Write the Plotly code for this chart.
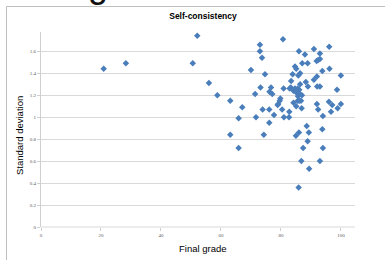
import plotly.graph_objects as go

final_grade = [20.9, 28.3, 50.6, 52.1, 56.0, 58.8, 63.1, 67.1, 65.9, 63.1,
               65.9, 70.0, 73.0, 73.0, 73.7, 74.7, 73.2, 71.4, 71.7, 74.3,
               73.9, 76.1, 76.1, 76.7, 76.2, 77.1, 77.7, 78.9, 79.1, 79.6,
               79.8, 80.7, 80.9, 80.4, 81.0, 82.7, 82.8, 82.9, 83.3, 83.4,
               83.9, 84.7, 85.1, 85.8, 86.4, 86.0, 88.0, 87.1, 88.9, 91.0,
               93.0, 96.1, 91.9, 92.4, 93.0, 93.8, 96.2, 100.0, 92.0, 91.0,
               88.3, 86.4, 89.0, 92.1, 93.0, 84.7, 85.6, 86.1, 84.2, 85.3,
               86.3, 87.0, 85.7, 85.6, 86.1, 86.7, 84.2, 85.1, 86.9, 92.0,
               92.4, 96.0, 97.1, 100.0, 98.9, 96.7, 94.0, 98.7, 88.6, 93.8,
               86.0, 89.3, 85.0, 88.9, 87.4, 94.0, 86.8, 93.0, 89.4, 85.9]
std_dev = [1.44, 1.49, 1.49, 1.74, 1.31, 1.20, 1.15, 1.09, 0.99, 0.84,
           0.72, 1.43, 1.66, 1.60, 1.54, 1.39, 1.27, 1.21, 1.00, 0.84,
           1.07, 1.07, 0.95, 1.27, 1.23, 1.21, 1.02, 1.11, 1.12, 1.15,
           1.17, 1.71, 1.26, 1.07, 1.00, 1.00, 1.05, 1.26, 1.27, 1.33,
           1.39, 1.46, 1.44, 1.38, 1.40, 1.60, 1.57, 1.49, 1.49, 1.62,
           1.58, 1.64, 1.51, 1.52, 1.53, 1.42, 1.44, 1.38, 1.37, 1.34,
           1.32, 1.30, 1.28, 1.28, 1.28, 1.26, 1.26, 1.25, 1.24, 1.22,
           1.21, 1.20, 1.19, 1.15, 1.15, 1.15, 1.13, 1.10, 1.08, 1.12,
           1.07, 1.14, 1.11, 1.12, 1.08, 1.05, 1.01, 1.25, 0.92, 0.89,
           0.86, 0.86, 0.83, 0.78, 0.72, 0.72, 0.60, 0.60, 0.53, 0.36]

x_ticks = [0, 20, 40, 60, 80, 100]
y_ticks = [0, 0.2, 0.4, 0.6, 0.8, 1, 1.2, 1.4, 1.6]
y_tick_text = ["0", "0.2", "0.4", "0.6", "0.8", "1", "1.2", "1.4", "1.6"]

chart_title = "Self-consistency"
x_title = "Final grade"
y_title = "Standard deviation"

W, H = 385, 260
L, R, T, B = 41, 30, 32, 33
pw, ph = W - L - R, H - T - B


def px_x(p):
    return (p - L) / pw


def px_y(p):
    return (H - B - p) / ph


fig = go.Figure()
fig.add_trace(go.Scatter(
    x=final_grade, y=std_dev, mode="markers",
    marker=dict(symbol="diamond", size=5, color="#4A7EBB", line=dict(width=0)),
    showlegend=False, cliponaxis=False,
))

tick_font = dict(family="Liberation Serif", size=5, color="#595959")
fig.update_xaxes(
    range=[0, 104.7], tickvals=x_ticks, ticktext=[str(v) for v in x_ticks],
    showgrid=False, zeroline=False, showline=False,
    ticks="outside", ticklen=3, tickcolor="#d0d0d0", tickwidth=1,
    tickfont=tick_font, fixedrange=True,
)
fig.update_yaxes(
    range=[0, 1.775], tickvals=y_ticks, ticktext=y_tick_text,
    showgrid=True, gridcolor="#d9d9d9", gridwidth=1, zeroline=False,
    showline=True, linecolor="#d0d0d0", linewidth=1,
    ticks="outside", ticklen=3, tickcolor="#d0d0d0",
    tickfont=tick_font, fixedrange=True,
)

fig.update_layout(
    width=W, height=H,
    margin=dict(l=L, r=R, t=T, b=B, pad=0),
    paper_bgcolor="white", plot_bgcolor="white",
    title=dict(text="<b>" + chart_title + "</b>", x=203 / W, xanchor="center",
               y=1 - 16 / H, yanchor="middle",
               font=dict(family="Liberation Sans", size=8.5, color="#000000")),
    shapes=[
        dict(type="line", xref="paper", yref="paper",
             x0=px_x(6.5), x1=px_x(6.5), y0=px_y(262), y1=px_y(6.5),
             line=dict(color="#bfbfbf", width=1)),
        dict(type="line", xref="paper", yref="paper",
             x0=px_x(6.5), x1=px_x(390), y0=px_y(6.5), y1=px_y(6.5),
             line=dict(color="#bfbfbf", width=1)),
        dict(type="line", xref="paper", yref="paper",
             x0=0, x1=1, y0=0, y1=0,
             line=dict(color="#d9d9d9", width=1)),
    ],
    annotations=[
        dict(text=x_title, xref="paper", yref="paper", x=px_x(203), y=px_y(248),
             xanchor="center", yanchor="middle", showarrow=False,
             font=dict(family="Liberation Sans", size=9.5, color="#000000")),
        dict(text=y_title, xref="paper", yref="paper", x=px_x(19), y=px_y(136),
             xanchor="center", yanchor="middle", showarrow=False, textangle=-90,
             font=dict(family="Liberation Sans", size=9.5, color="#000000")),
        dict(text="g", xref="paper", yref="paper", x=px_x(98), y=px_y(7),
             xanchor="center", yanchor="bottom", showarrow=False,
             font=dict(family="Liberation Sans", size=36, color="#111111")),
    ],
)

fig.write_html("out.html",
               config={"displayModeBar": False},
               post_script="document.body.style.margin='0';"
                           "document.body.style.overflow='hidden';")
